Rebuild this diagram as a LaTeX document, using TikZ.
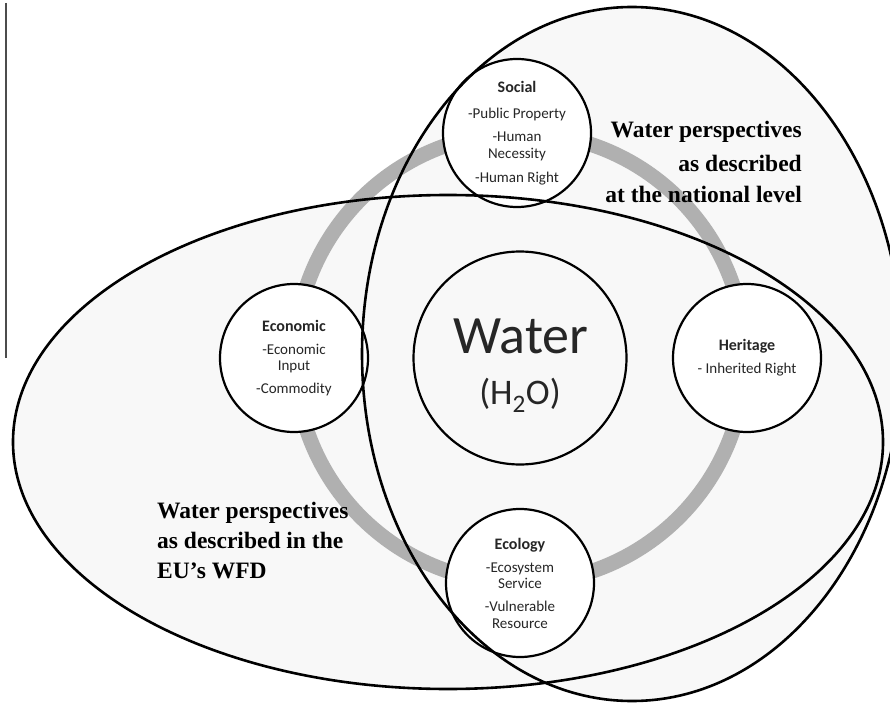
\documentclass[tikz,border=0pt]{standalone}
\usepackage{fontspec}
\setmainfont{Carlito}
\newfontfamily\zonefont{Liberation Serif}
\definecolor{ringgray}{HTML}{B0B0B0}
\definecolor{zonefill}{HTML}{F8F8F8}
\definecolor{inkgray}{HTML}{262626}
\newcommand\facettitle[1]{{\fontsize{16}{16.5}\selectfont\bfseries #1}}
\begin{document}
\begin{tikzpicture}[x=1pt,y=-1pt,
  zone/.style={line width=2.6pt, draw=black},
  zonebg/.style={fill=zonefill},
  ring/.style={line width=15pt, draw=ringgray},
  facet/.style={circle, draw=black, line width=2.2pt, fill=white, minimum size=148pt, inner sep=0pt},
  core/.style={circle, draw=black, line width=2.2pt, minimum size=213pt, inner sep=0pt},
  facettext/.style={align=center, inner sep=0pt, text=inkgray, font=\fontsize{15}{16.5}\selectfont},
  zonetext/.style={inner sep=0pt, text=black, font=\zonefont\bfseries\fontsize{23.5}{28}\selectfont},
  rule/.style={line width=1.3pt, draw=black!70}
]
\useasboundingbox (0,0) rectangle (890,708);
\clip (0,0) rectangle (890,708);

% coordinates
\coordinate (euc) at (448,442);
\coordinate (natc) at (632,354);
\coordinate (ringc) at (520,358);
\coordinate (vt) at (6,3);
\coordinate (vb) at (6,358);

% zone fills
\path[zonebg] (euc) ellipse [x radius=435pt, y radius=247pt];
\path[zonebg] (natc) ellipse [x radius=270pt, y radius=347pt];

% stray rule on the left
\draw[rule] (vt) -- (vb);

% ring
\draw[ring] (ringc) circle (225pt);

% circles
\node[core] (waterc) at (520,358) {};
\node[facet] (socialc) at (517,133) {};
\node[facet] (economicc) at (294,358) {};
\node[facet] (heritagec) at (747,358) {};
\node[facet] (ecologyc) at (520,583) {};

% zone outlines
\draw[zone] (euc) ellipse [x radius=435pt, y radius=247pt];
\draw[zone] (natc) ellipse [x radius=270pt, y radius=347pt];

% texts in circles
\node[facettext] (social) at (socialc.center) {\facettitle{Social}\\[10pt]-Public Property\\[6.5pt]-Human\\Necessity\\[7.5pt]-Human Right};
\node[facettext] (economic) at (economicc.center) {\facettitle{Economic}\\[6.5pt]-Economic\\Input\\[6.5pt]-Commodity};
\node[facettext] (heritage) at (heritagec.center) {\facettitle{Heritage}\\[6.5pt]- Inherited Right};
\node[facettext] (ecology) at (ecologyc.center) {\facettitle{Ecology}\\[6.5pt]-Ecosystem\\Service\\[6.5pt]-Vulnerable\\Resource};

\node[inner sep=0pt, text=inkgray, font=\fontsize{54}{54}\selectfont] (water) at (521,336) {Water};
\node[inner sep=0pt, text=inkgray, font=\fontsize{36}{36}\selectfont] (h2o) at (520,395) {(H\textsubscript{2}O)};

% zone labels
\node[zonetext, anchor=base east] (nat1) at (802,138) {Water perspectives};
\node[zonetext, anchor=base east] (nat2) at (802,172) {as described};
\node[zonetext, anchor=base east] (nat3) at (802,203) {at the national level};

\node[zonetext, anchor=base west] (eu1) at (157,518) {Water perspectives};
\node[zonetext, anchor=base west] (eu2) at (157,548) {as described in the};
\node[zonetext, anchor=base west] (eu3) at (157,578) {EU’s WFD};
\end{tikzpicture}
\end{document}
